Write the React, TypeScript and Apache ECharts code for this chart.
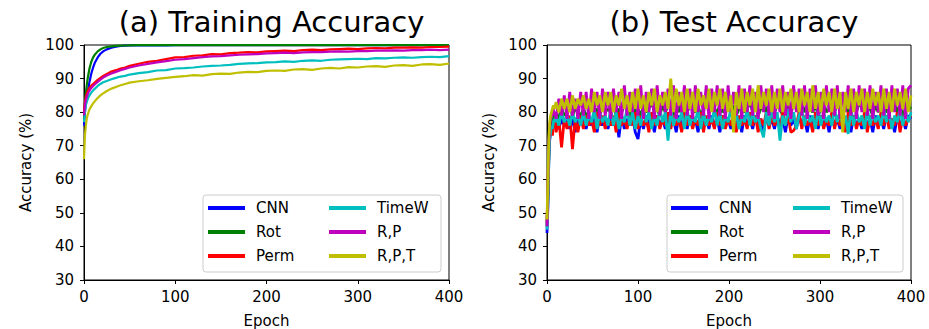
import React, { useEffect, useRef } from "react";
import * as echarts from "echarts";

const seriesNames = ["CNN", "Rot", "Perm", "TimeW", "R,P", "R,P,T"];
const seriesColors = ["#0000ff", "#008000", "#ff0000", "#00bfbf", "#bf00bf", "#bfbf00"];
const titles = ["(a) Training Accuracy", "(b) Test Accuracy"];
const xTicks = [0, 100, 200, 300, 400];
const yTicks = [30, 40, 50, 60, 70, 80, 90, 100];

// ---- Training accuracy ----
const trainEpochs = [0, 1, 2, 3, 4, 5, 6, 8, 10, 12, 15, 18, 21, 25, 30, 35, 40, 45, 50,
  60, 70, 80, 90, 100, 110, 120, 130, 140, 150, 160, 170, 180, 190, 200, 210, 220, 230, 240,
  250, 260, 270, 280, 290, 300, 310, 320, 330, 340, 350, 360, 370, 380, 390, 400];
const trainCNN = [76, 80, 82.5, 84.5, 86, 87.5, 89, 91.5, 93.3, 94.8, 96.3, 97.4, 98.1, 98.7, 99.2, 99.5, 99.7, 99.8, 99.85,
  99.9, 99.9, 99.9, 99.9, 99.95, 99.95, 99.95, 99.95, 99.95, 99.95, 99.95, 99.95, 99.95, 99.95, 99.95, 99.95, 99.95, 99.95, 99.95,
  99.95, 99.95, 99.95, 99.95, 99.95, 99.95, 99.95, 99.95, 99.95, 99.95, 99.95, 99.95, 99.95, 99.95, 99.95, 99.95];
const trainRot = [78, 82.5, 85.5, 88, 90, 91.5, 93, 95, 96.3, 97.2, 98.1, 98.7, 99.1, 99.4, 99.6, 99.75, 99.8, 99.85, 99.9,
  99.95, 99.95, 99.95, 99.95, 99.95, 99.95, 99.95, 99.95, 99.95, 99.95, 99.95, 99.95, 99.95, 99.95, 99.95, 99.95, 99.95, 99.95, 99.95,
  99.95, 99.95, 99.95, 99.95, 99.95, 99.95, 99.95, 99.95, 99.95, 99.95, 99.95, 99.95, 99.95, 99.95, 99.95, 99.95];
const trainPerm = [80, 83, 84.5, 85.5, 86.2, 86.8, 87.2, 87.9, 88.4, 88.9, 89.6, 90.2, 90.8, 91.4, 92.1, 92.5, 93.0, 93.3, 93.8,
  94.4, 95.0, 95.3, 95.8, 96.3, 96.4, 96.8, 96.9, 97.3, 97.2, 97.6, 97.7, 97.9, 97.8, 98.1, 98.2, 98.3, 98.2, 98.5,
  98.6, 98.5, 98.7, 98.8, 98.9, 98.8, 99.0, 99.1, 99.0, 99.2, 99.2, 99.3, 99.2, 99.4, 99.4, 99.5];
const trainTimeW = [77, 80, 82, 83, 83.8, 84.5, 85, 85.8, 86.5, 87.0, 87.8, 88.4, 88.9, 89.3, 89.8, 90.2, 90.6, 90.8, 91.2,
  91.6, 91.9, 92.4, 92.5, 93.0, 93.1, 93.3, 93.6, 93.8, 93.9, 94.1, 94.4, 94.5, 94.6, 94.8, 94.9, 95.1, 95.0, 95.3,
  95.4, 95.3, 95.6, 95.7, 95.8, 95.9, 95.8, 96.1, 96.0, 96.2, 96.3, 96.2, 96.4, 96.5, 96.4, 96.7];
const trainRP = [79, 82, 83.5, 84.5, 85.3, 85.9, 86.4, 87.2, 87.8, 88.3, 89.0, 89.7, 90.3, 90.9, 91.5, 92.0, 92.5, 92.9, 93.3,
  93.9, 94.4, 94.8, 95.2, 95.6, 95.8, 96.1, 96.4, 96.6, 96.7, 96.9, 97.1, 97.2, 97.3, 97.5, 97.6, 97.7, 97.6, 97.8,
  97.9, 97.9, 98.0, 98.1, 98.0, 98.2, 98.2, 98.3, 98.3, 98.4, 98.3, 98.5, 98.5, 98.6, 98.5, 98.6];
const trainRPT = [66, 73, 76, 78, 79.2, 80, 80.8, 81.8, 82.6, 83.3, 84.2, 85.0, 85.6, 86.3, 87.0, 87.5, 88.0, 88.4, 88.8,
  89.2, 89.5, 89.9, 90.2, 90.5, 90.7, 91.0, 90.9, 91.3, 91.5, 91.4, 91.8, 92.0, 91.9, 92.3, 92.4, 92.3, 92.7, 92.8,
  92.6, 93.0, 93.2, 93.0, 93.4, 93.3, 93.6, 93.7, 93.5, 93.9, 94.0, 93.8, 94.2, 94.3, 94.1, 94.5];

// ---- Test accuracy ----
const testEpochs = [0, 1, 2, 3, 4, 5, 6, 7, 8, 9,
  10, 13, 16, 19, 22, 25, 28, 31, 34, 37,
  40, 43, 46, 49, 52, 55, 58, 61, 64, 67,
  70, 73, 76, 79, 82, 85, 88, 91, 94, 97,
  100, 103, 106, 109, 112, 115, 118, 121, 124, 127,
  130, 133, 136, 139, 142, 145, 148, 151, 154, 157,
  160, 163, 166, 169, 172, 175, 178, 181, 184, 187,
  190, 193, 196, 199, 202, 205, 208, 211, 214, 217,
  220, 223, 226, 229, 232, 235, 238, 241, 244, 247,
  250, 253, 256, 259, 262, 265, 268, 271, 274, 277,
  280, 283, 286, 289, 292, 295, 298, 301, 304, 307,
  310, 313, 316, 319, 322, 325, 328, 331, 334, 337,
  340, 343, 346, 349, 352, 355, 358, 361, 364, 367,
  370, 373, 376, 379, 382, 385, 388, 391, 394, 397,
  400];
const testCNN = [44, 52, 66, 72, 74, 75, 76, 77, 76, 78,
  77, 75, 78, 76, 79, 75, 78, 74, 79, 76,
  78, 75, 79, 76, 78, 74, 79, 76, 78, 75,
  79, 76, 78, 72.5, 79, 75, 78, 76, 79, 74,
  72, 78, 75, 79, 76, 78, 74, 79, 76, 78,
  75, 79, 76, 78, 74, 79, 76, 78, 75, 79,
  76, 78, 74, 79, 76, 78, 75, 79, 76, 78,
  74, 79, 76, 78, 75, 79, 76, 78, 74, 79,
  76, 78, 75, 79, 76, 78, 74, 79, 76, 78,
  75, 79, 76, 78, 74, 79, 76, 78, 75, 79,
  76, 78, 74, 79, 76, 78, 75, 79, 76, 78,
  74, 79, 76, 78, 75, 79, 76, 78, 74, 79,
  76, 78, 75, 79, 76, 78, 74, 79, 76, 78,
  75, 79, 76, 78, 74, 79, 76, 78, 75, 79,
  78];
const testRot = [46, 55, 68, 74, 76, 77, 78, 78, 79, 79,
  80, 78, 81, 79, 80, 82, 79, 81, 80, 79,
  81, 79, 80, 82, 80, 81, 79, 82, 80, 81,
  80, 82, 79, 81, 80, 82, 81, 79, 82, 80,
  81, 79, 82, 80, 81, 83, 80, 81, 79, 82,
  80, 82, 81, 79, 82, 80, 83, 81, 80, 82,
  81, 80, 82, 79, 81, 83, 80, 82, 81, 80,
  82, 80, 81, 83, 80, 82, 79, 81, 82, 80,
  81, 83, 80, 82, 79, 81, 82, 80, 83, 81,
  80, 82, 81, 79, 83, 81, 80, 82, 81, 80,
  82, 80, 83, 81, 80, 82, 79, 81, 83, 80,
  81, 82, 80, 83, 81, 79, 82, 80, 81, 82,
  80, 83, 81, 80, 82, 81, 79, 82, 80, 83,
  81, 80, 82, 81, 83, 80, 82, 79, 81, 82,
  81];
const testPerm = [47, 56, 67, 73, 75, 76, 73, 77, 76, 78,
  74, 78, 69.5, 78, 75, 79, 69, 78, 74, 79,
  75, 79, 76, 78, 74, 80, 76, 79, 75, 78,
  76, 79, 74, 80, 76, 78, 75, 79, 76, 80,
  75, 79, 76, 78, 74, 80, 76, 79, 75, 78,
  76, 80, 75, 79, 76, 78, 74, 80, 76, 79,
  75, 78, 76, 80, 74, 79, 76, 78, 75, 80,
  76, 79, 75, 78, 76, 80, 74, 79, 76, 78,
  75, 80, 76, 79, 74, 78, 76, 80, 75, 79,
  76, 78, 75, 80, 76, 79, 74, 74.5, 76, 80,
  75, 79, 76, 78, 74, 80, 76, 79, 75, 78,
  76, 80, 75, 79, 76, 78, 74, 80, 76, 79,
  75, 78, 76, 80, 74, 79, 76, 78, 75, 80,
  76, 79, 75, 78, 76, 80, 74, 79, 76, 78,
  79];
const testTimeW = [45, 54, 65, 72, 74, 76, 75, 77, 78, 77,
  79, 76, 80, 77, 79, 76, 80, 77, 79, 76,
  80, 76, 79, 77, 81, 75, 80, 77, 79, 76,
  81, 76, 80, 75, 79, 77, 81, 76, 80, 75,
  79, 76, 81, 77, 80, 75, 79, 76, 81, 77,
  80, 71.5, 81, 76, 79, 77, 80, 75, 81, 76,
  79, 77, 81, 75, 80, 76, 79, 77, 81, 76,
  80, 75, 79, 77, 81, 76, 80, 75, 79, 77,
  81, 76, 80, 77, 79, 75, 72.5, 80, 76, 81,
  77, 80, 71.5, 79, 76, 81, 77, 80, 75, 79,
  81, 76, 80, 77, 79, 75, 81, 76, 80, 77,
  79, 76, 81, 77, 80, 76, 79, 73.5, 81, 76,
  80, 77, 79, 75, 81, 76, 80, 77, 79, 76,
  81, 77, 80, 75, 79, 77, 81, 76, 80, 77,
  80];
const testRP = [46, 58, 70, 76, 78, 79, 80, 81, 79, 80,
  78, 84, 79, 85, 78, 86, 79, 84, 78, 86,
  79, 86, 78, 87, 80, 86, 78, 87, 79, 86,
  78, 87, 80, 86, 78, 88, 79, 86, 80, 87,
  79, 88, 78, 86, 80, 87, 78, 88, 79, 86,
  80, 87, 79, 88, 78, 86, 80, 88, 79, 87,
  78, 88, 80, 86, 79, 88, 78, 87, 80, 88,
  79, 87, 78, 88, 80, 86, 79, 88, 78, 87,
  80, 88, 79, 86, 78, 88, 80, 87, 79, 88,
  78, 87, 80, 88, 79, 86, 78, 88, 80, 87,
  79, 88, 78, 87, 80, 88, 79, 86, 78, 88,
  80, 87, 79, 88, 78, 86, 80, 88, 79, 87,
  78, 88, 80, 87, 79, 88, 78, 86, 80, 88,
  79, 87, 78, 88, 80, 87, 79, 88, 78, 87,
  88];
const testRPT = [48, 60, 72, 77, 79, 80, 81, 82, 81, 82,
  83, 80, 84, 81, 84, 80, 85, 81, 84, 82,
  85, 81, 84, 80, 86, 82, 85, 80, 86, 82,
  86, 80, 85, 82, 87, 81, 85, 80, 86, 81,
  87, 81, 85, 80, 86, 82, 87, 80, 85, 82,
  86, 81, 90, 80, 87, 82, 86, 80, 87, 81,
  86, 80, 87, 82, 85, 81, 87, 80, 86, 82,
  87, 81, 86, 80, 85, 74, 86, 81, 87, 80,
  86, 82, 87, 80, 88, 81, 86, 82, 87, 80,
  86, 81, 87, 80, 86, 82, 87, 81, 86, 80,
  87, 82, 86, 80, 88, 81, 86, 80, 87, 82,
  86, 80, 87, 81, 86, 74, 86, 81, 87, 80,
  86, 82, 87, 80, 86, 81, 87, 82, 86, 80,
  87, 81, 86, 80, 87, 82, 86, 81, 87, 80,
  85];

const trainValues = [trainCNN, trainRot, trainPerm, trainTimeW, trainRP, trainRPT];
const testValues = [testCNN, testRot, testPerm, testTimeW, testRP, testRPT];

const FONT = "DejaVu Sans";

export default function App() {
  const ref = useRef<HTMLDivElement>(null);
  useEffect(() => {
    if (!ref.current) return;
    const chart = echarts.init(ref.current, null, { renderer: "svg" });
    const grids = [
      { left: 84, top: 45, width: 365, height: 235 },
      { left: 547, top: 45, width: 364, height: 235 },
    ];
    const mkX = (i: number) => ({
      type: "value",
      gridIndex: i,
      min: xTicks[0],
      max: xTicks[xTicks.length - 1],
      interval: 100,
      name: "Epoch",
      nameLocation: "middle",
      nameGap: 33,
      nameTextStyle: { color: "#000", fontSize: 15, fontFamily: FONT },
      axisLine: { show: true, lineStyle: { color: "#000", width: 1 } },
      axisTick: { show: true, length: 4, lineStyle: { color: "#000" } },
      axisLabel: { color: "#000", fontSize: 15, fontFamily: FONT, margin: 9 },
      splitLine: { show: false },
    });
    const mkY = (i: number) => ({
      type: "value",
      gridIndex: i,
      min: yTicks[0],
      max: yTicks[yTicks.length - 1],
      interval: 10,
      name: "Accuracy (%)",
      nameLocation: "middle",
      nameRotate: 90,
      nameGap: 51,
      nameTextStyle: { color: "#000", fontSize: 15, fontFamily: FONT },
      axisLine: { show: true, lineStyle: { color: "#000", width: 1 } },
      axisTick: { show: true, length: 4, lineStyle: { color: "#000" } },
      axisLabel: { color: "#000", fontSize: 15, fontFamily: FONT, margin: 10 },
      splitLine: { show: false },
    });
    const series: any[] = [];
    seriesNames.forEach((name, k) => {
      series.push({
        name,
        type: "line",
        xAxisIndex: 0,
        yAxisIndex: 0,
        showSymbol: false,
        symbol: "none",
        color: seriesColors[k],
        lineStyle: { color: seriesColors[k], width: 2.2 },
        data: trainEpochs.map((e, j) => [e, trainValues[k][j]]),
      });
    });
    seriesNames.forEach((name, k) => {
      series.push({
        name,
        type: "line",
        xAxisIndex: 1,
        yAxisIndex: 1,
        showSymbol: false,
        symbol: "none",
        color: seriesColors[k],
        lineStyle: { color: seriesColors[k], width: 2.8 },
        data: testEpochs.map((e, j) => [e, testValues[k][j]]),
      });
    });
    const legendBase = {
      orient: "vertical",
      itemGap: 8,
      itemWidth: 37,
      itemHeight: 4,
      icon: "rect",
      padding: 0,
      selectedMode: false,
      textStyle: { color: "#000", fontSize: 15, fontFamily: FONT, lineHeight: 16, padding: [0, 0, 0, 6] },
    };
    const legendBoxes = [
      { x: 203, y: 195, w: 238 },
      { x: 667, y: 195, w: 236 },
    ];
    const option: any = {
      animation: false,
      backgroundColor: "#fff",
      title: titles.map((t, i) => ({
        text: t,
        left: grids[i].left + grids[i].width / 2,
        textAlign: "center",
        top: 2,
        textStyle: { color: "#000", fontSize: 29, fontWeight: "normal", fontFamily: FONT },
      })),
      grid: grids.map((g) => ({
        ...g,
        outerBoundsMode: "none",
        containLabel: false,
        show: true,
        borderColor: "#000",
        borderWidth: 1,
        backgroundColor: "transparent",
      })),
      xAxis: [mkX(0), mkX(1)],
      yAxis: [mkY(0), mkY(1)],
      legend: [
        { ...legendBase, data: seriesNames.slice(0, 3), left: 208, top: 200 },
        { ...legendBase, data: seriesNames.slice(3), left: 329, top: 200 },
        { ...legendBase, data: seriesNames.slice(0, 3), left: 671, top: 200 },
        { ...legendBase, data: seriesNames.slice(3), left: 793, top: 200 },
      ],
      graphic: legendBoxes.map((b) => ({
        type: "rect",
        z: 3,
        shape: { x: b.x, y: b.y, width: b.w, height: 77, r: 3 },
        style: { fill: "rgba(255,255,255,0.8)", stroke: "#cccccc", lineWidth: 1 },
      })),
      series,
    };
    chart.setOption(option);
    return () => chart.dispose();
  }, []);
  return <div ref={ref} style={{ position: "absolute", left: 0, top: 0, width: 929, height: 329 }} />;
}
